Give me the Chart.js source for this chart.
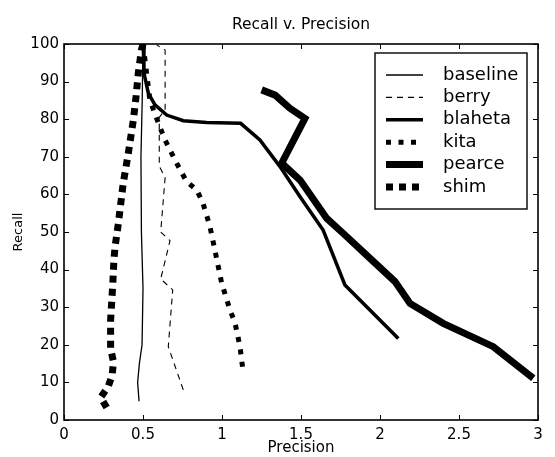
<!DOCTYPE html>
<html><head><meta charset="utf-8">
<script src="https://cdn.jsdelivr.net/npm/chart.js@4.4.1/dist/chart.umd.min.js"></script>
<style>html,body{margin:0;padding:0;background:#fff}#wrap{width:555px;height:457px;position:relative}</style>
</head><body><div id="wrap"><canvas id="c"></canvas></div>
<script>
// ---- data ----
const seriesNames = ['baseline', 'berry', 'blaheta', 'kita', 'pearce', 'shim'];
const xTicks = [0, 0.5, 1, 1.5, 2, 2.5, 3];
const yTicks = [0, 10, 20, 30, 40, 50, 60, 70, 80, 90, 100];

const baselineX = [0.475, 0.466, 0.477, 0.494, 0.500, 0.490, 0.487, 0.495, 0.500];
const baselineY = [5, 10, 15, 20, 35, 50, 70, 85, 100];

const berryX = [0.755, 0.660, 0.688, 0.612, 0.671, 0.612, 0.640, 0.603, 0.603, 0.640, 0.640, 0.587];
const berryY = [8, 19.5, 34.6, 37.5, 47.7, 50, 64.5, 67.5, 80.5, 82.5, 98.4, 99.7];

const blahetaX = [0.502, 0.506, 0.534, 0.576, 0.650, 0.755, 0.903, 1.118, 1.240, 1.367, 1.494, 1.640, 1.778, 2.116];
const blahetaY = [99.7, 92.3, 86.9, 83.8, 81.1, 79.6, 79.1, 78.9, 74.5, 67.4, 59.4, 50.5, 35.9, 21.7];

const kitaX = [0.500, 0.544, 0.597, 0.639, 0.713, 0.776, 0.840, 0.880, 0.924, 0.955, 0.998, 1.050, 1.082, 1.114, 1.135];
const kitaY = [100, 85, 79, 74.5, 68.3, 63.4, 61.2, 57.6, 51.4, 45.2, 36.4, 29.3, 25.9, 19.5, 12.4];

const pearceX = [1.251, 1.336, 1.430, 1.525, 1.378, 1.494, 1.663, 1.768, 1.937, 2.095, 2.190, 2.400, 2.717, 2.970];
const pearceY = [87.8, 86.4, 82.9, 80.2, 68.3, 63.8, 53.6, 49.6, 43, 36.8, 31, 25.7, 19.5, 11.1];

const shimX = [0.270, 0.232, 0.280, 0.305, 0.313, 0.295, 0.295, 0.308, 0.316, 0.323, 0.344, 0.375, 0.407, 0.439, 0.456, 0.470, 0.490, 0.500];
const shimY = [3.3, 6, 8.9, 12, 15.5, 19, 26.6, 35.5, 42.6, 46, 52.3, 63, 70.9, 79.8, 86, 92.2, 98.4, 100];

// ---- build ----
function pts(xs, ys) { return xs.map((x, i) => ({x: x, y: ys[i]})); }
const styles = {
  baseline: {borderWidth: 1.3, borderDash: []},
  berry:    {borderWidth: 1.1, borderDash: [6, 5]},
  blaheta:  {borderWidth: 3.5, borderDash: []},
  kita:     {borderWidth: 5, borderDash: [5, 7.5]},
  pearce:   {borderWidth: 7, borderDash: []},
  shim:     {borderWidth: 7, borderDash: [7, 6]}
};
const allData = {
  baseline: pts(baselineX, baselineY),
  berry: pts(berryX, berryY),
  blaheta: pts(blahetaX, blahetaY),
  kita: pts(kitaX, kitaY),
  pearce: pts(pearceX, pearceY),
  shim: pts(shimX, shimY)
};
const datasets = seriesNames.map(n => ({
  label: n,
  data: allData[n],
  showLine: true,
  pointRadius: 0,
  borderColor: '#000',
  backgroundColor: '#000',
  borderCapStyle: 'butt',
  borderJoinStyle: 'miter',
  tension: 0,
  borderWidth: styles[n].borderWidth,
  borderDash: styles[n].borderDash
}));

const FONT = 'DejaVu Sans';

const axesBox = {
  id: 'axesBox',
  afterDatasetsDraw(chart) {
    const {ctx, chartArea: a, scales: {x, y}} = chart;
    ctx.save();
    ctx.strokeStyle = '#000';
    ctx.setLineDash([]);
    ctx.lineWidth = 1;
    const tl = 5;
    ctx.beginPath();
    xTicks.forEach(v => {
      const px = Math.round(x.getPixelForValue(v)) + 0.5;
      ctx.moveTo(px, a.bottom); ctx.lineTo(px, a.bottom - tl);
      ctx.moveTo(px, a.top); ctx.lineTo(px, a.top + tl);
    });
    yTicks.forEach(v => {
      const py = Math.round(y.getPixelForValue(v)) + 0.5;
      ctx.moveTo(a.left, py); ctx.lineTo(a.left + tl, py);
      ctx.moveTo(a.right, py); ctx.lineTo(a.right - tl, py);
    });
    ctx.stroke();
    ctx.lineWidth = 1.6;
    ctx.strokeRect(a.left, a.top, a.right - a.left, a.bottom - a.top);
    ctx.restore();
  }
};

const boxLegend = {
  id: 'boxLegend',
  afterDraw(chart) {
    const {ctx, chartArea: a} = chart;
    const right = a.right - 11, top = a.top + 9, w = 152, h = 156;
    const left = right - w;
    ctx.save();
    ctx.fillStyle = '#fff';
    ctx.fillRect(left, top, w, h);
    ctx.strokeStyle = '#000';
    ctx.lineWidth = 1.4;
    ctx.setLineDash([]);
    ctx.strokeRect(left, top, w, h);
    ctx.font = '18px "' + FONT + '"';
    ctx.textBaseline = 'middle';
    ctx.textAlign = 'left';
    ctx.fillStyle = '#000';
    chart.data.datasets.forEach((ds, i) => {
      const cy = top + 22 + i * 22.4;
      ctx.beginPath();
      ctx.lineWidth = ds.borderWidth;
      ctx.setLineDash(ds.borderDash || []);
      ctx.lineCap = 'butt';
      ctx.moveTo(left + 11, cy);
      ctx.lineTo(left + 48, cy);
      ctx.stroke();
      ctx.setLineDash([]);
      ctx.fillText(ds.label, left + 68, cy);
    });
    ctx.restore();
  }
};

new Chart(document.getElementById('c'), {
  type: 'scatter',
  data: {datasets: datasets},
  options: {
    responsive: true,
    maintainAspectRatio: false,
    animation: false,
    devicePixelRatio: 1,
    layout: {padding: {left: 0, right: 17, top: 0, bottom: 0}},
    plugins: {
      legend: {display: false},
      tooltip: {enabled: false},
      title: {
        display: true,
        fullSize: false,
        text: 'Recall v. Precision',
        color: '#000',
        font: {family: FONT, size: 15.5, weight: 'normal', lineHeight: 1.2},
        padding: {top: 16, bottom: 9.4}
      }
    },
    scales: {
      x: {
        type: 'linear', min: 0, max: 3,
        afterBuildTicks(s) { s.ticks = xTicks.map(v => ({value: v})); },
        afterFit(s) { s.height = 37; },
        grid: {display: false, drawTicks: false},
        border: {display: false},
        ticks: {color: '#000', font: {family: FONT, size: 15}, padding: 6, autoSkip: false, maxRotation: 0,
                callback: v => String(v)},
        title: {display: true, text: 'Precision', color: '#000', font: {family: FONT, size: 15, lineHeight: 1.2}, padding: {top: 0, bottom: 0}}
      },
      y: {
        type: 'linear', min: 0, max: 100,
        afterBuildTicks(s) { s.ticks = yTicks.map(v => ({value: v})); },
        afterFit(s) { s.width = 64; },
        grid: {display: false, drawTicks: false},
        border: {display: false},
        ticks: {color: '#000', font: {family: FONT, size: 15}, padding: 5, autoSkip: false,
                callback: v => String(v)},
        title: {display: true, text: 'Recall', color: '#000', font: {family: FONT, size: 13, lineHeight: 1.2}, padding: {top: 11, bottom: 0}}
      }
    }
  },
  plugins: [axesBox, boxLegend]
});
</script>
</body></html>
